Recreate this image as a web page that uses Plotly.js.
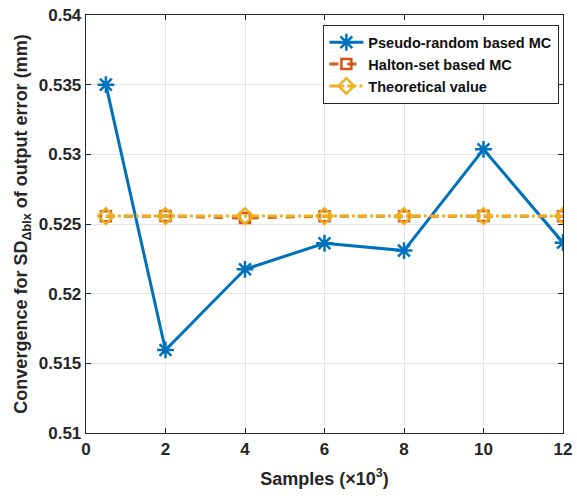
<!DOCTYPE html>
<html><head><meta charset="utf-8">
<script src="https://cdn.plot.ly/plotly-3.0.1.min.js"></script>
<style>html,body{margin:0;padding:0;background:#fff}#chart{width:577px;height:496px}</style>
</head><body><div id="chart"></div>
<script>
var samples = [0.5, 2, 4, 6, 8, 10, 12];
var pseudoRandom = [0.535, 0.51596, 0.52175, 0.52362, 0.52309, 0.53036, 0.52366];
var halton = [0.52555, 0.52557, 0.52543, 0.52556, 0.52556, 0.52557, 0.52556];
var theoretical = [0.52557, 0.52557, 0.52557, 0.52557, 0.52557, 0.52557, 0.52557];
var xTicks = [0, 2, 4, 6, 8, 10, 12];
var yTicks = [0.51, 0.515, 0.52, 0.525, 0.53, 0.535, 0.54];

var traces = [
 {x: samples, y: pseudoRandom, name: 'Pseudo-random based MC', mode: 'lines+markers',
  line: {color: '#0072BD', width: 3},
  marker: {symbol: 'asterisk-open', size: 14, color: '#0072BD', line: {color: '#0072BD', width: 2.5}}},
 {x: samples, y: halton, name: 'Halton-set based MC', mode: 'lines+markers',
  line: {color: '#D95319', width: 3, dash: 'dash'},
  marker: {symbol: 'square-open', size: 10, color: '#D95319', line: {color: '#D95319', width: 2.5}}},
 {x: samples, y: theoretical, name: 'Theoretical value', mode: 'lines+markers',
  line: {color: '#EDB120', width: 3, dash: 'dashdot'},
  marker: {symbol: 'diamond-open', size: 12, color: '#EDB120', line: {color: '#EDB120', width: 2.5}}}
];

var fontFam = 'Liberation Sans, Arial, sans-serif';
var layout = {
 width: 577, height: 496,
 margin: {l: 86, r: 14, t: 15, b: 63},
 paper_bgcolor: '#fff', plot_bgcolor: '#fff',
 font: {family: fontFam, color: '#262626', size: 17, weight: 'bold'},
 showlegend: true,
 legend: {x: 0.497, y: 0.976, xanchor: 'left', yanchor: 'top',
  bgcolor: '#fff', bordercolor: '#262626', borderwidth: 1.3,
  font: {family: fontFam, size: 14.5, color: '#111', weight: 'bold'},
  tracegroupgap: 0, itemwidth: 34},
 xaxis: {range: [0, 12], tickvals: xTicks, ticktext: xTicks.map(String),
  showgrid: true, gridcolor: '#e6e6e6', zeroline: false,
  showline: true, linecolor: '#262626', linewidth: 1.3, mirror: 'ticks',
  ticks: 'inside', ticklen: 5, tickcolor: '#262626',
  tickfont: {family: fontFam, size: 17, color: '#262626', weight: 'bold'},
  title: {text: 'Samples (×10<sup>3</sup>)', font: {family: fontFam, size: 18, color: '#262626', weight: 'bold'}, standoff: 14}},
 yaxis: {range: [0.51, 0.54], tickvals: yTicks, ticktext: yTicks.map(String),
  showgrid: true, gridcolor: '#e6e6e6', zeroline: false,
  showline: true, linecolor: '#262626', linewidth: 1.3, mirror: 'ticks',
  ticks: 'inside', ticklen: 5, tickcolor: '#262626',
  tickfont: {family: fontFam, size: 17, color: '#262626', weight: 'bold'},
  title: {text: 'Convergence for SD<sub>Δblx</sub> of output error (mm)', font: {family: fontFam, size: 18, color: '#262626', weight: 'bold'}, standoff: 6}}
};
Plotly.newPlot('chart', traces, layout, {displayModeBar: false, staticPlot: true});
</script></body></html>
